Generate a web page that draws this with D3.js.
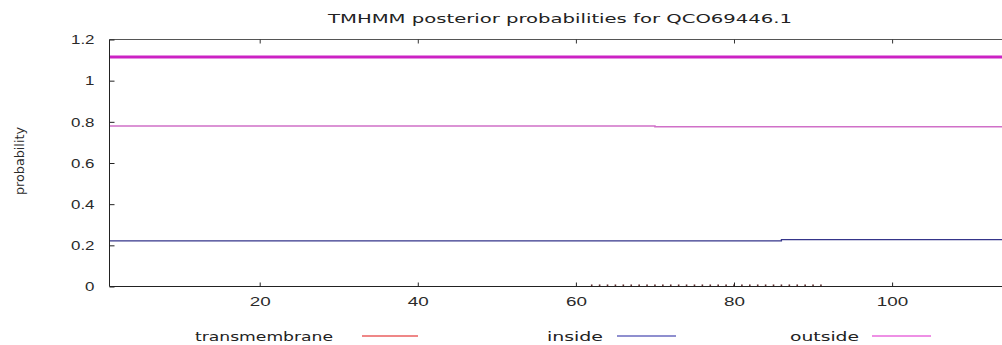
<!DOCTYPE html>
<html><head><meta charset="utf-8">
<script src="https://cdn.jsdelivr.net/npm/d3@7"></script>
<style>
html,body{margin:0;padding:0;background:#fff;}
svg{display:block;font-family:"DejaVu Sans",sans-serif;}
</style></head>
<body>
<svg id="chart" width="1002" height="345"></svg>
<script>
// ---- data ----
const titleText = "TMHMM posterior probabilities for QCO69446.1";
const yLabel = "probability";
const seqRange = [1, 116];
const xTicks = [20, 40, 60, 80, 100];
const yTicks = [0, 0.2, 0.4, 0.6, 0.8, 1, 1.2];
const yTickLabels = ["0", "0.2", "0.4", "0.6", "0.8", "1", "1.2"];
// step-wise series: residue where value starts, value
const outsideResidues = [1, 70, 116];
const outsideValues = [0.780, 0.776, 0.776];
const insideResidues = [1, 86, 116];
const insideValues = [0.222, 0.228, 0.228];
// transmembrane (tiny, non-zero only over residues 62..91)
const tmResidues = [62,63,64,65,66,67,68,69,70,71,72,73,74,75,76,77,78,79,80,81,82,83,84,85,86,87,88,89,90,91];
const tmValues = [0.006,0.006,0.006,0.006,0.006,0.006,0.006,0.006,0.006,0.006,0.006,0.006,0.006,0.006,0.006,0.006,0.006,0.006,0.006,0.006,0.006,0.006,0.006,0.006,0.006,0.006,0.006,0.006,0.006,0.006];
// predicted topology bar
const topoStart = [1];
const topoEnd = [116];
const topoLevel = [1.115];
const legendNames = ["transmembrane", "inside", "outside"];
const legendColors = ["#e01010", "#2020a0", "#dd22cc"];

// ---- layout ----
const svg = d3.select("#chart");
const x = d3.scaleLinear().domain(seqRange).range([109.5, 109.5 + 115 * 7.905]);
const y = d3.scaleLinear().domain([0, 1.2]).range([286.5, 39.5]);

function stretchText(sel, k) {
  sel.each(function() {
    const w = this.getComputedTextLength();
    d3.select(this).attr("textLength", w * k).attr("lengthAdjust", "spacingAndGlyphs");
  });
}

// series
const stepLine = d3.line().x(d => x(d[0])).y(d => y(d[1])).curve(d3.curveStepAfter);
svg.append("path")
  .datum(outsideResidues.map((r, i) => [r, outsideValues[i]]))
  .attr("d", stepLine).attr("fill", "none")
  .attr("stroke", "#d070c8").attr("stroke-width", 1.6);
svg.append("path")
  .datum(insideResidues.map((r, i) => [r, insideValues[i]]))
  .attr("d", stepLine).attr("fill", "none")
  .attr("stroke", "#35358a").attr("stroke-width", 1.3);
svg.append("g").selectAll("rect")
  .data(tmResidues.map((r, i) => [r, tmValues[i]]))
  .join("rect")
  .attr("x", d => x(d[0]) - 0.8).attr("y", d => y(d[1]) - 0.8)
  .attr("width", 1.6).attr("height", 1.6).attr("fill", "#603030");
svg.append("g").selectAll("line")
  .data(topoStart.map((s, i) => [s, topoEnd[i], topoLevel[i]]))
  .join("line")
  .attr("x1", d => x(d[0])).attr("x2", d => x(d[1]))
  .attr("y1", d => y(d[2])).attr("y2", d => y(d[2]))
  .attr("stroke", "#cc22c4").attr("stroke-width", 3);

// frame
const x0 = x(seqRange[0]), x1 = x(seqRange[1]);
svg.append("line").attr("x1", x0).attr("x2", x1).attr("y1", y(1.2)).attr("y2", y(1.2))
  .attr("stroke", "#555").attr("stroke-width", 1);

// axes
const gx = svg.append("g").attr("transform", `translate(0,${y(0)})`)
  .call(d3.axisBottom(x).tickValues(xTicks).tickSize(-4).tickPadding(10).tickSizeOuter(0));
gx.select(".domain").attr("stroke", "#222").attr("d", `M${x0},0H${x1}`);
gx.selectAll(".tick line").attr("stroke", "#222");
gx.selectAll("text").attr("font-size", 13).attr("fill", "#2a2a2a").attr("font-family", null);
stretchText(gx.selectAll("text"), 1.45);

const gt = svg.append("g").attr("transform", `translate(0,${y(1.2)})`)
  .call(d3.axisTop(x).tickValues(xTicks).tickSize(-4).tickFormat(""));
gt.select(".domain").remove();
gt.selectAll(".tick line").attr("stroke", "#333");

const gy = svg.append("g").attr("transform", `translate(${x0},0)`)
  .call(d3.axisLeft(y).tickValues(yTicks).tickSize(-5).tickPadding(15).tickSizeOuter(0)
    .tickFormat((d, i) => yTickLabels[i]));
gy.select(".domain").attr("stroke", "#222").attr("d", `M0,${y(0)}V${y(1.2)}`);
gy.selectAll(".tick line").attr("stroke", "#222");
gy.selectAll("text").attr("font-size", 13).attr("fill", "#2a2a2a").attr("font-family", null);
stretchText(gy.selectAll("text"), 1.3);

// title
svg.append("text").attr("x", 560).attr("y", 23).attr("text-anchor", "middle")
  .attr("font-size", 13).attr("fill", "#222")
  .attr("textLength", 464).attr("lengthAdjust", "spacingAndGlyphs").text(titleText);

// y label
svg.append("text").attr("transform", "translate(24,161) rotate(-90)")
  .attr("text-anchor", "middle").attr("font-size", 13).attr("fill", "#2a2a2a")
  .attr("textLength", 68).attr("lengthAdjust", "spacingAndGlyphs").text(yLabel);

// legend
const legendTextX = [195, 547, 790];
const legendTextW = [138, 56, 69];
const legendLineX = [[362, 418], [617, 676], [872, 931]];
const lg = svg.append("g").selectAll("g").data(legendNames).join("g");
lg.append("text").attr("x", (d, i) => legendTextX[i]).attr("y", 341)
  .attr("font-size", 13).attr("fill", "#222")
  .attr("textLength", (d, i) => legendTextW[i]).attr("lengthAdjust", "spacingAndGlyphs").text(d => d);
lg.append("line").attr("x1", (d, i) => legendLineX[i][0]).attr("x2", (d, i) => legendLineX[i][1])
  .attr("y1", 336).attr("y2", 336)
  .attr("stroke", (d, i) => legendColors[i]).attr("stroke-width", 1.2);
</script>
</body></html>
